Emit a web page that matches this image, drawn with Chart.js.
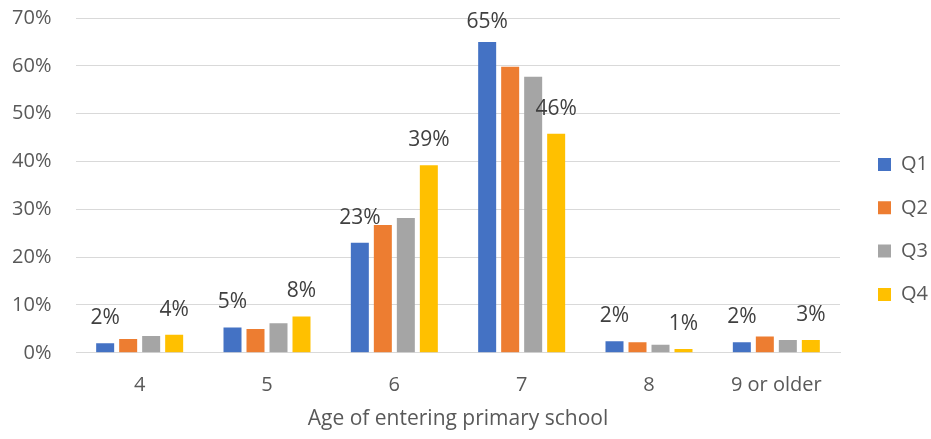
<!DOCTYPE html>
<html>
<head>
<meta charset="utf-8">
<script src="https://cdn.jsdelivr.net/npm/chart.js@4"></script>
<style>
  html, body { margin: 0; padding: 0; background: #ffffff; }
  #wrap { width: 931px; height: 439px; position: relative; }
</style>
</head>
<body>
<div id="wrap"><canvas id="c" width="931" height="439"></canvas></div>
<script>
// ---- data ----
const categories = ['4', '5', '6', '7', '8', '9 or older'];
const seriesNames = ['Q1', 'Q2', 'Q3', 'Q4'];
const q1 = [2.0, 5.3, 23.0, 65.0, 2.4, 2.2];
const q2 = [2.9, 5.0, 26.7, 59.8, 2.2, 3.4];
const q3 = [3.5, 6.2, 28.2, 57.7, 1.7, 2.7];
const q4 = [3.8, 7.6, 39.2, 45.8, 0.8, 2.7];
const yTicks = [0, 10, 20, 30, 40, 50, 60, 70];
const labeledSeries = ['Q1', 'Q4'];
const axisTitle = 'Age of entering primary school';

const colors = ['#4472C4', '#ED7D31', '#A5A5A5', '#FFC000'];
const FONT = "'Open Sans', 'Noto Sans', sans-serif";

const valueLabels = {
  id: 'valueLabels',
  afterDatasetsDraw(chart) {
    const ctx = chart.ctx;
    ctx.save();
    ctx.font = '21px ' + FONT;
    ctx.fillStyle = '#404040';
    ctx.textAlign = 'center';
    ctx.textBaseline = 'middle';
    chart.data.datasets.forEach((ds, di) => {
      if (!labeledSeries.includes(ds.label)) return;
      const meta = chart.getDatasetMeta(di);
      meta.data.forEach((bar, i) => {
        const txt = Math.round(ds.data[i]) + '%';
        const y = Math.max(bar.y - 25, chart.chartArea.top + 4);
        ctx.fillText(txt, bar.x, y);
      });
    });
    ctx.restore();
  }
};

const seriesData = [q1, q2, q3, q4];
new Chart(document.getElementById('c'), {
  type: 'bar',
  data: {
    labels: categories,
    datasets: seriesNames.map((n, i) => ({
      label: n,
      data: seriesData[i],
      backgroundColor: colors[i],
      borderWidth: 0,
      categoryPercentage: 0.7225,
      barPercentage: 0.7826
    }))
  },
  options: {
    responsive: false,
    animation: false,
    layout: { padding: { left: 0, right: 0, top: 7.2, bottom: 7 } },
    plugins: {
      legend: {
        position: 'right',
        maxWidth: 76.3,
        title: { display: true, text: '', font: { size: 12 }, padding: { top: 5.3, bottom: 0 } },
        labels: {
          boxWidth: 13,
          boxHeight: 13,
          padding: 23.3,
          color: '#595959',
          font: { family: FONT, size: 20 }
        }
      },
      tooltip: { enabled: false }
    },
    scales: {
      x: {
        grid: { display: false, drawTicks: true, tickLength: 12.5, tickColor: 'rgba(0,0,0,0)' },
        border: { display: true, color: '#D9D9D9', width: 1 },
        ticks: { color: '#595959', font: { family: FONT, size: 20 }, padding: 8 },
        title: {
          display: true,
          text: axisTitle,
          color: '#595959',
          font: { family: FONT, size: 21 },
          padding: { top: 1.5, bottom: 0 }
        }
      },
      y: {
        min: 0,
        max: 70,
        afterFit(s) { s.width = 76; },
        afterBuildTicks(s) { s.ticks = yTicks.map(v => ({ value: v })); },
        grid: { color: '#D9D9D9', lineWidth: 1, drawTicks: true, tickLength: 18.5, tickColor: 'rgba(0,0,0,0)' },
        border: { display: false },
        ticks: {
          color: '#595959',
          font: { family: FONT, size: 20 },
          padding: 6,
          callback: v => v + '%'
        }
      },
      yR: {
        type: 'linear',
        position: 'right',
        display: true,
        afterFit(s) { s.width = 14.7; },
        grid: { display: false, drawTicks: false },
        border: { display: false },
        ticks: { display: false }
      }
    }
  },
  plugins: [valueLabels]
});
</script>
</body>
</html>
